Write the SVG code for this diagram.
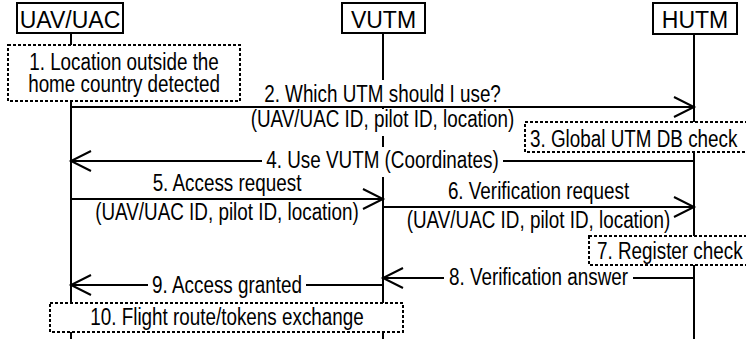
<svg xmlns="http://www.w3.org/2000/svg" width="746" height="339" viewBox="0 0 746 339">
  <defs>
    <style>
      .hdr{fill:#fff;stroke:#000;stroke-width:2}
      .note{fill:#fff;stroke:#000;stroke-width:2;stroke-dasharray:3 2}
      .life{stroke:#000;stroke-width:2;fill:none}
      .msg{stroke:#000;stroke-width:2;fill:none;marker-end:url(#arr)}
      .bg{fill:#fff;stroke:none}
      text{font-family:"Liberation Sans Narrow","Arial Narrow","Liberation Sans",Arial,sans-serif;font-size:23px;fill:#000}
      .c{text-anchor:middle}
      .h{font-family:"Liberation Sans",Arial,sans-serif;font-size:23px;text-anchor:middle}
    </style>
    <!-- open arrowhead: two strokes meeting at the tip -->
    <marker id="arr" markerUnits="userSpaceOnUse" viewBox="0 0 24 22" markerWidth="24" markerHeight="22" refX="21" refY="11" orient="auto">
      <path d="M1,1 L21,11 L1,21" fill="none" stroke="#000" stroke-width="2"/>
    </marker>
  </defs>
  <rect width="746" height="339" fill="#fff"/>

  <!-- participants with their lifelines -->
  <g id="uav">
    <line class="life" x1="71" y1="33" x2="71" y2="339"/>
    <rect class="hdr" x="17" y="3" width="106" height="30"/>
    <text class="h" x="70" y="28">UAV/UAC</text>
  </g>
  <g id="vutm">
    <line class="life" x1="383" y1="33" x2="383" y2="339"/>
    <rect class="hdr" x="342" y="3" width="83" height="30"/>
    <text class="h" x="383.5" y="28">VUTM</text>
  </g>
  <g id="hutm">
    <line class="life" x1="694" y1="35" x2="694" y2="339"/>
    <rect class="hdr" x="653" y="3" width="84" height="31"/>
    <text class="h" x="695" y="28">HUTM</text>
  </g>

  <!-- local actions (labels set in a condensed face via horizontal scaling) -->
  <g id="step1">
    <rect class="note" x="8" y="45" width="232" height="56"/>
    <text class="c" transform="translate(124,70) scale(0.82,1)">1. Location outside the</text>
    <text class="c" transform="translate(124,92) scale(0.82,1)">home country detected</text>
  </g>
  <g id="step3">
    <rect class="note" x="525" y="122" width="240" height="30"/>
    <text transform="translate(530,147) scale(0.82,1)">3. Global UTM DB check</text>
  </g>
  <g id="step7">
    <rect class="note" x="589" y="236" width="180" height="29"/>
    <text transform="translate(597,259) scale(0.82,1)">7. Register check</text>
  </g>
  <g id="step10">
    <rect class="note" x="50" y="303" width="353" height="29"/>
    <text class="c" transform="translate(227,325) scale(0.82,1)">10. Flight route/tokens exchange</text>
  </g>

  <!-- messages -->
  <g id="connectors">
    <line class="msg" x1="71" y1="107" x2="694" y2="107"/>
    <line class="msg" x1="694" y1="161" x2="71" y2="161"/>
    <line class="msg" x1="71" y1="199" x2="383" y2="199"/>
    <line class="msg" x1="383" y1="207" x2="694" y2="207"/>
    <line class="msg" x1="694" y1="278" x2="383" y2="278"/>
    <line class="msg" x1="383" y1="285" x2="71" y2="285"/>

    <rect class="bg" x="262" y="80" width="241" height="26"/>
    <text class="c" transform="translate(382.5,102) scale(0.82,1)">2. Which UTM should I use?</text>
    <rect class="bg" x="248" y="109" width="269" height="27"/>
    <text class="c" transform="translate(382.5,127) scale(0.82,1)">(UAV/UAC ID, pilot ID, location)</text>

    <rect class="bg" x="262" y="147" width="241" height="30"/>
    <text class="c" transform="translate(382.5,168) scale(0.82,1)">4. Use VUTM (Coordinates)</text>

    <text class="c" transform="translate(227,191) scale(0.82,1)">5. Access request</text>
    <text class="c" transform="translate(227,220) scale(0.82,1)">(UAV/UAC ID, pilot ID, location)</text>

    <text class="c" transform="translate(538.5,199) scale(0.82,1)">6. Verification request</text>
    <text class="c" transform="translate(538.5,228) scale(0.82,1)">(UAV/UAC ID, pilot ID, location)</text>

    <rect class="bg" x="444" y="269" width="189" height="18"/>
    <text class="c" transform="translate(538.5,285) scale(0.82,1)">8. Verification answer</text>

    <rect class="bg" x="148" y="276" width="158" height="18"/>
    <text class="c" transform="translate(227,293) scale(0.82,1)">9. Access granted</text>
  </g>
</svg>
